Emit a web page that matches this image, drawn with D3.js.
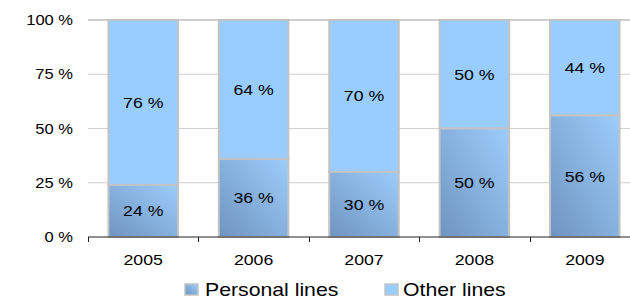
<!DOCTYPE html>
<html>
<head>
<meta charset="utf-8">
<script src="https://cdn.jsdelivr.net/npm/d3@7"></script>
<style>
  body { margin: 0; background: #fff; }
  text { font-family: "Liberation Sans", Arial, sans-serif; fill: #000; }
</style>
</head>
<body>
<div id="chart"></div>
<script>
// data
var years = ["2005", "2006", "2007", "2008", "2009"];
var personal = [24, 36, 30, 50, 56];
var other = [76, 64, 70, 50, 44];
var yTicks = [0, 25, 50, 75, 100];
var seriesNames = ["Personal lines", "Other lines"];

(function() {
    var W = 630, H = 299;
    var sx = 1.18; // text in the picture is a bit wide

    var svg = d3.select("#chart").append("svg")
        .attr("width", W)
        .attr("height", H);

    var defs = svg.append("defs");
    var grad = defs.append("linearGradient")
        .attr("id", "pgrad")
        .attr("x1", "0%").attr("y1", "100%")
        .attr("x2", "100%").attr("y2", "0%");
    grad.append("stop").attr("offset", "0%").attr("stop-color", "#6f94c0");
    grad.append("stop").attr("offset", "100%").attr("stop-color", "#9dcdfb");

    var x = d3.scaleBand().domain(years).range([88, 640])
        .paddingInner(0.37).paddingOuter(0.185);
    var xCat = d3.scaleBand().domain(years).range([88, 640]).padding(0);
    var y = d3.scaleLinear().domain([0, 100]).range([237, 20]);

    // grid lines
    svg.append("g").selectAll("line")
        .data(yTicks.filter(function(t) { return t > 0; }))
        .enter().append("line")
        .attr("x1", 88).attr("x2", W)
        .attr("y1", function(d) { return y(d); })
        .attr("y2", function(d) { return y(d); })
        .attr("stroke", "#cfcfcf")
        .attr("stroke-width", function(d) { return d === 100 ? 2 : 1; });

    // y labels
    svg.append("g").selectAll("g")
        .data(yTicks)
        .enter().append("g")
        .attr("transform", function(d) { return "translate(73," + y(d) + ") scale(" + sx + ",1)"; })
        .append("text")
        .attr("text-anchor", "end")
        .attr("dy", "0.36em")
        .style("font-size", "14px")
        .text(function(d) { return d + " %"; });

    var rows = years.map(function(yr, i) {
        return { year: yr, p: personal[i], o: other[i] };
    });

    // other lines (top part)
    svg.append("g").selectAll("rect")
        .data(rows)
        .enter().append("rect")
        .attr("x", function(d) { return x(d.year); })
        .attr("width", x.bandwidth())
        .attr("y", function(d) { return y(d.p + d.o); })
        .attr("height", function(d) { return y(d.p) - y(d.p + d.o); })
        .attr("fill", "#99ccff")
        .attr("stroke", "#c3c3c3")
        .attr("stroke-width", 2);

    // personal lines (bottom part)
    svg.append("g").selectAll("rect")
        .data(rows)
        .enter().append("rect")
        .attr("x", function(d) { return x(d.year); })
        .attr("width", x.bandwidth())
        .attr("y", function(d) { return y(d.p); })
        .attr("height", function(d) { return y(0) - y(d.p); })
        .attr("fill", "url(#pgrad)")
        .attr("stroke", "#c3c3c3")
        .attr("stroke-width", 2);

    // value labels
    var lab = svg.append("g");
    rows.forEach(function(d) {
        var cx = x(d.year) + x.bandwidth() / 2;
        [[d.p, (y(0) + y(d.p)) / 2], [d.o, (y(d.p) + y(100)) / 2]].forEach(function(v) {
            lab.append("g")
                .attr("transform", "translate(" + cx + "," + v[1] + ") scale(" + sx + ",1)")
                .append("text")
                .attr("text-anchor", "middle")
                .attr("dy", "0.36em")
                .style("font-size", "15px")
                .text(v[0] + " %");
        });
    });

    // x axis
    var ax = svg.append("g");
    ax.append("line")
        .attr("x1", 88).attr("x2", W)
        .attr("y1", y(0)).attr("y2", y(0))
        .attr("stroke", "#222").attr("stroke-width", 1);
    ax.selectAll("line.tick")
        .data(years)
        .enter().append("line")
        .attr("class", "tick")
        .attr("x1", function(d) { return Math.round(xCat(d)) + 0.5; })
        .attr("x2", function(d) { return Math.round(xCat(d)) + 0.5; })
        .attr("y1", y(0)).attr("y2", y(0) + 5)
        .attr("stroke", "#222");
    ax.selectAll("g.lbl")
        .data(years)
        .enter().append("g")
        .attr("class", "lbl")
        .attr("transform", function(d) { return "translate(" + (xCat(d) + xCat.bandwidth() / 2) + ",115) scale(" + sx + ",1)"; })
        .attr("transform", function(d) { return "translate(" + (xCat(d) + xCat.bandwidth() / 2) + ",265) scale(" + sx + ",1)"; })
        .append("text")
        .attr("text-anchor", "middle")
        .style("font-size", "15px")
        .text(function(d) { return d; });

    // legend
    var leg = [
        { name: seriesNames[0], fill: "url(#pgrad)", sx: 185, tx: 205 },
        { name: seriesNames[1], fill: "#99ccff", sx: 385, tx: 403 }
    ];
    var lg = svg.append("g");
    leg.forEach(function(l) {
        lg.append("rect")
            .attr("x", l.sx).attr("y", 284)
            .attr("width", 13).attr("height", 11)
            .attr("fill", l.fill)
            .attr("stroke", "#c3c3c3").attr("stroke-width", 1.5);
        lg.append("g")
            .attr("transform", "translate(" + l.tx + ",296) scale(" + sx + ",1)")
            .append("text")
            .style("font-size", "18px")
            .text(l.name);
    });
})();
</script>
</body>
</html>
